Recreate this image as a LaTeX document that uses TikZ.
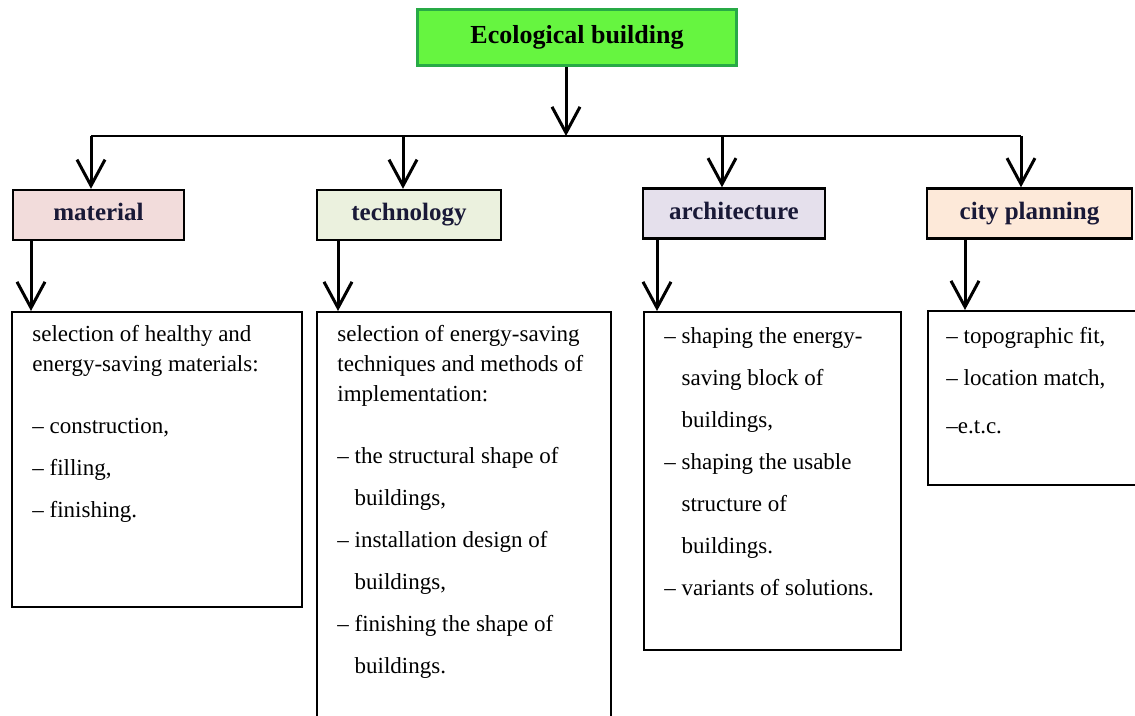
\documentclass[tikz,border=0pt]{standalone}
\usepackage{fontspec}
\setmainfont{Liberation Serif}
\usepackage{xcolor}
\usetikzlibrary{arrows.meta}

\definecolor{ecogreen}{RGB}{102,245,64}
\definecolor{ecoborder}{RGB}{40,170,70}
\definecolor{matfill}{HTML}{F2DCDB}
\definecolor{techfill}{HTML}{EBF1DE}
\definecolor{archfill}{HTML}{E5E0EC}
\definecolor{cityfill}{HTML}{FDE9D9}
\definecolor{labelink}{RGB}{25,25,55}

\begin{document}
\begin{tikzpicture}[x=0.5pt,y=-0.5pt,
	title/.style={draw=ecoborder,line width=1.5pt,fill=ecogreen,minimum width=159.5pt,minimum height=28pt,text height=9pt,text depth=3pt,font=\fontsize{13}{15}\selectfont\bfseries},
	branch/.style={draw,line width=1.2pt,minimum height=25pt,text height=9pt,text depth=3pt,text=labelink,font=\fontsize{12.5}{15}\selectfont\bfseries},
	panel/.style={draw,line width=1pt},
	body/.style={anchor=north west,inner sep=0pt,align=left,font=\fontsize{11.5}{15}\selectfont},
	drop/.style={line width=1.5pt,-{Straight Barb[length=13pt,width=14pt]}}]
	\clip (0,0) rectangle (1135,716);
	
	\node[title] (eco) at (577,38) {Ecological building};
	
	\node[branch,fill=matfill,minimum width=85.5pt] (mat) at (98.5,215) {material};
	\node[branch,fill=techfill,minimum width=92pt] (tech) at (409,215) {technology};
	\node[branch,fill=archfill,minimum width=91pt] (arch) at (734,213.5) {architecture};
	\node[branch,fill=cityfill,minimum width=102.5pt] (city) at (1029.5,213.5) {city planning};
	
	\node[panel,minimum width=145pt,minimum height=147.5pt] (mat-box) at (157,459.5) {};
	\node[panel,minimum width=147pt,minimum height=214pt] (tech-box) at (464,526) {};
	\node[panel,minimum width=128.5pt,minimum height=169pt] (arch-box) at (772.5,481) {};
	\node[panel,minimum width=108.5pt,minimum height=87pt] (city-box) at (1036.5,398) {};
	
	\node[body] (mat-text) at (32,325) {selection of healthy and\\
		energy-saving materials:\\[16pt]
		– construction,\\[6pt]
		– filling,\\[6pt]
		– finishing.};
	\node[body] (tech-text) at (337,325) {selection of energy-saving\\
		techniques and methods of\\
		implementation:\\[16pt]
		– the structural shape of\\[6pt]
		\phantom{– }buildings,\\[6pt]
		– installation design of\\[6pt]
		\phantom{– }buildings,\\[6pt]
		– finishing the shape of\\[6pt]
		\phantom{– }buildings.};
	\node[body] (arch-text) at (664,327) {– shaping the energy-\\[6pt]
		\phantom{– }saving block of\\[6pt]
		\phantom{– }buildings,\\[6pt]
		– shaping the usable\\[6pt]
		\phantom{– }structure of\\[6pt]
		\phantom{– }buildings.\\[6pt]
		– variants of solutions.};
	\node[body] (city-text) at (946,327) {– topographic fit,\\[6pt]
		– location match,\\[9pt]
		–e.t.c.};
	
	\coordinate (bus) at (566,136);
	\coordinate (busL) at (91,136);
	\coordinate (busR) at (1021,136);
	
	\draw[drop] (eco.south -| bus) -- (bus);
	\draw[line width=1pt] (busL) -- (busR);
	
	\foreach \b/\x in {mat/91,tech/403,arch/722,city/1021}{
		\draw[drop] (bus -| \x,0) -- (\b.north -| \x,0);
	}
	
	\foreach \b/\x in {mat/31,tech/338,arch/657,city/965}{
		\draw[drop] (\b.south -| \x,0) -- (\b-box.north -| \x,0);
	}
\end{tikzpicture}
\end{document}
